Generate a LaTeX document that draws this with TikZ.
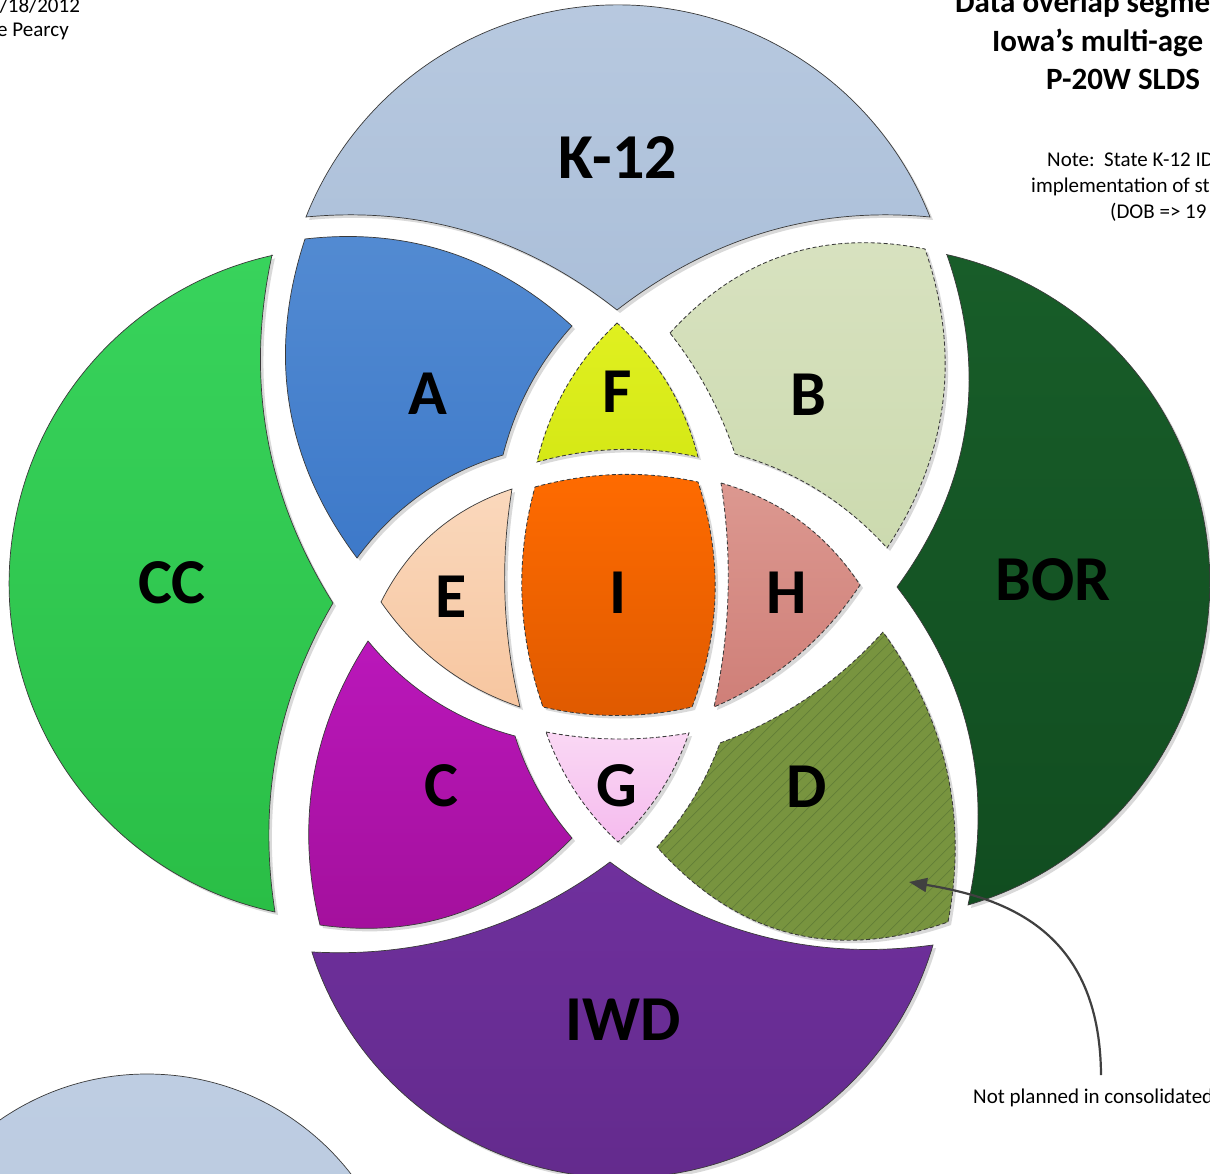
\documentclass[tikz,border=0pt]{standalone}
\usepackage{fontspec}
\setmainfont{Carlito}
\usetikzlibrary{calc,arrows.meta}
\definecolor{outlc}{HTML}{3A3A3A}
\definecolor{shadowc}{HTML}{D9D9D9}
\definecolor{hatchc}{HTML}{627E37}
\definecolor{arrowc}{HTML}{404040}
\newcommand{\qcurve}[3]{.. controls ($(#2)!-0.333333!(#3)$) and ($(#2)!-0.333333!(#1)$) .. (#3)}
\newcommand{\pathKlobe}{(306,217) \qcurve{306,217}{470,232}{617,310} \qcurve{617,310}{766,232}{930,217} arc[start angle=21.6,end angle=158.4,radius=335.6pt] -- cycle}
\newcommand{\pathCClobe}{(272,255) \qcurve{272,255}{267,435.2}{333,603} \qcurve{333,603}{276.5,752.3}{275,912} arc[start angle=257.95,end angle=102.5,radius=336pt] -- cycle}
\newcommand{\pathBORlobe}{(947,255) \qcurve{947,255}{965.5,427.6}{897,587} \qcurve{897,587}{969.6,737.7}{968,905} arc[start angle=-73.7,end angle=77.45,radius=336pt] -- cycle}
\newcommand{\pathIWDlobe}{(313,952) \qcurve{313,952}{469.6,933.8}{610,862} \qcurve{610,862}{763,936.4}{933,945} arc[start angle=-16.48,end angle=-162.23,radius=325pt] -- cycle}
\newcommand{\pathA}{(305,239) \qcurve{305,239}{448,252}{572,326} \qcurve{572,326}{529.6,386}{503,455} \qcurve{503,455}{421.3,494.2}{357,558} \qcurve{357,558}{289.5,405.3}{305,239} -- cycle}
\newcommand{\pathF}{(617,323) \qcurve{617,323}{566.6,386.5}{537,462} \qcurve{537,462}{617.5,449.5}{698,457} \qcurve{698,457}{667.8,383.8}{617,323} -- cycle}
\newcommand{\pathB}{(670,333) \qcurve{670,333}{785.6,254.9}{925,249} \qcurve{925,249}{942.7,403.2}{887,548} \qcurve{887,548}{817.8,490}{735,454} \qcurve{735,454}{707.8,390.7}{670,333} -- cycle}
\newcommand{\pathE}{(381,602) \qcurve{381,602}{434.7,531.9}{512,489} \qcurve{512,489}{505,598}{520,707} \qcurve{520,707}{442.1,666.2}{381,602} -- cycle}
\newcommand{\pathI}{(535,487) \qcurve{535,487}{617,474.5}{698,482} \qcurve{698,482}{715,595}{692,707} \qcurve{692,707}{617.5,715.5}{543,707} \qcurve{543,707}{522,597}{535,487} -- cycle}
\newcommand{\pathH}{(721,483) \qcurve{721,483}{800,521}{860,585} \qcurve{860,585}{796,657}{714,707} \qcurve{714,707}{728,595}{721,483} -- cycle}
\newcommand{\pathC}{(368,641) \qcurve{368,641}{433.9,700.3}{515,736} \qcurve{515,736}{538.3,789.9}{572,838} \qcurve{572,838}{457.1,913.6}{320,925} \qcurve{320,925}{313.4,777.8}{368,641} -- cycle}
\newcommand{\pathG}{(546,732) \qcurve{546,732}{617.5,739}{689,733} \qcurve{689,733}{660.2,791.9}{618,842} \qcurve{618,842}{575.3,791.4}{546,732} -- cycle}
\newcommand{\pathD}{(883,632) \qcurve{883,632}{808.3,697.4}{720,743} \qcurve{720,743}{693.6,798.1}{657,847} \qcurve{657,847}{790,933}{948,922} \qcurve{948,922}{946.7,770}{883,632} -- cycle}
\tikzset{
  shadowfill/.style={fill=shadowc, shift={(3,3)}},
  solidline/.style={draw=outlc, line width=0.7pt},
  dashline/.style={draw=outlc, line width=0.85pt, dash pattern=on 4pt off 2.5pt},
  lbl/.style={inner sep=0pt, font=\fontsize{64}{70}\selectfont\bfseries},
  smalltext/.style={inner sep=0pt, font=\fontsize{21}{25}\selectfont},
  titletext/.style={inner sep=0pt, font=\fontsize{31}{36}\selectfont\bfseries}
}
\begin{document}
\begin{tikzpicture}[x=1pt,y=-1pt]
\useasboundingbox (0,0) rectangle (1210,1174);
\fill[white] (0,0) rectangle (1210,1174);
% partial circle at bottom left
\shadedraw[top color={rgb,255:red,190;green,205;blue,226}, bottom color={rgb,255:red,182;green,199;blue,222}, solidline] (147,1332) circle[radius=258pt];
% outer lobes
\fill[shadowfill] \pathKlobe;
\shadedraw[top color={rgb,255:red,185;green,202;blue,224}, bottom color={rgb,255:red,171;green,191;blue,217}, solidline] \pathKlobe;
\fill[shadowfill] \pathCClobe;
\shadedraw[top color={rgb,255:red,56;green,211;blue,92}, bottom color={rgb,255:red,42;green,190;blue,70}, solidline] \pathCClobe;
\fill[shadowfill] \pathBORlobe;
\shadedraw[top color={rgb,255:red,24;green,93;blue,41}, bottom color={rgb,255:red,17;green,77;blue,32}, solidline] \pathBORlobe;
\fill[shadowfill] \pathIWDlobe;
\shadedraw[top color={rgb,255:red,111;green,48;blue,157}, bottom color={rgb,255:red,98;green,42;blue,139}, solidline] \pathIWDlobe;
% inner regions
\fill[shadowfill] \pathA;
\shadedraw[top color={rgb,255:red,83;green,139;blue,210}, bottom color={rgb,255:red,61;green,121;blue,201}, solidline] \pathA;
\fill[shadowfill] \pathF;
\shadedraw[top color={rgb,255:red,224;green,240;blue,32}, bottom color={rgb,255:red,213;green,232;blue,22}, dashline] \pathF;
\fill[shadowfill] \pathB;
\shadedraw[top color={rgb,255:red,216;green,226;blue,192}, bottom color={rgb,255:red,204;green,218;blue,175}, dashline] \pathB;
\fill[shadowfill] \pathE;
\shadedraw[top color={rgb,255:red,250;green,216;blue,188}, bottom color={rgb,255:red,247;green,198;blue,160}, solidline] \pathE;
\fill[shadowfill] \pathI;
\shadedraw[top color={rgb,255:red,255;green,107;blue,0}, bottom color={rgb,255:red,223;green,90;blue,0}, dashline] \pathI;
\fill[shadowfill] \pathH;
\shadedraw[top color={rgb,255:red,220;green,152;blue,144}, bottom color={rgb,255:red,207;green,127;blue,120}, dashline] \pathH;
\fill[shadowfill] \pathC;
\shadedraw[top color={rgb,255:red,186;green,23;blue,186}, bottom color={rgb,255:red,163;green,16;blue,156}, solidline] \pathC;
\fill[shadowfill] \pathG;
\shadedraw[top color={rgb,255:red,250;green,216;blue,244}, bottom color={rgb,255:red,245;green,187;blue,238}, dashline] \pathG;
\fill[shadowfill] \pathD;
\fill[fill={rgb,255:red,120;green,148;blue,63}] \pathD;
\begin{scope}
  \clip \pathD;
  \foreach \c in {1280,1292,...,1910} \draw[hatchc, line width=0.7pt] (\c-960,960) -- (\c-600,600);
\end{scope}
\draw[dashline] \pathD;
% labels
\node[lbl] (lK) at (618,158) {K-12};
\node[lbl] (lCC) at (172,583) {CC};
\node[lbl] (lBOR) at (1053,580) {BOR};
\node[lbl] (lIWD) at (623,1020) {IWD};
\node[lbl] (lA) at (428,394) {A};
\node[lbl] (lF) at (617,392) {F};
\node[lbl] (lB) at (808,395) {B};
\node[lbl] (lE) at (451,597) {E};
\node[lbl] (lI) at (618,593) {I};
\node[lbl] (lH) at (787,593) {H};
\node[lbl] (lC) at (441,786) {C};
\node[lbl] (lG) at (617,786) {G};
\node[lbl] (lD) at (807,787) {D};
% header texts
\node[smalltext, anchor=base west] (date) at (-11,13) {7/18/2012};
\node[smalltext, anchor=base west] (auth) at (-3,37) {e Pearcy};
\node[titletext, anchor=base west] (t1) at (955,13) {Data overlap segme};
\node[titletext, anchor=base west] (t2) at (992,52) {Iowa’s multi-age};
\node[titletext, anchor=base west] (t3) at (1046,90) {P-20W SLDS};
\node[smalltext, anchor=base west] (n1) at (1047,167) {Note:\ \ State K-12 ID};
\node[smalltext, anchor=base west] (n2) at (1031,193) {implementation of st};
\node[smalltext, anchor=base west] (n3) at (1110,219) {(DOB => 19};
\node[smalltext, anchor=base west] (np) at (973,1103) {Not planned in consolidated};
% arrow
\coordinate (arrS) at (1101,1075);
\coordinate (arrT) at (909,882);
\draw[arrowc, line width=2.2pt, -{Triangle[length=18pt,width=14pt]}] (arrS) .. controls (1100,930) and (1005,898) .. (arrT);
\end{tikzpicture}
\end{document}
